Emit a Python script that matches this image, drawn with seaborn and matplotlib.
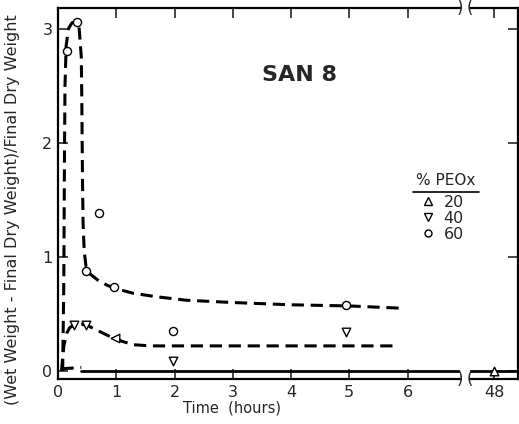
import matplotlib
matplotlib.use("Agg")
import matplotlib.pyplot as plt
import seaborn as sns
import pandas as pd
from matplotlib.lines import Line2D

sns.set_style("ticks")
plt.rcParams['font.family'] = ['DejaVu Sans']

# measured points
pts60_t = [0.15, 0.33, 0.48, 0.70, 0.96, 1.97, 4.95]
pts60_y = [2.80, 3.06, 0.88, 1.38, 0.74, 0.35, 0.58]
pts40_t = [0.27, 0.48, 1.97, 4.95]
pts40_y = [0.40, 0.40, 0.09, 0.34]
pts40b_t = [0.98]
pts40b_y = [0.29]
pts20_t = [48.0]
pts20_y = [0.0]

# drawn fitted curves
c60_t = [0.08, 0.10, 0.11, 0.12, 0.14, 0.18, 0.24, 0.30, 0.36, 0.40, 0.41, 0.42, 0.43, 0.45, 0.48, 0.55, 0.70, 0.85, 1.0, 1.3, 1.7, 2.2, 3.0, 4.0, 5.0, 5.9]
c60_y = [0.00, 0.80, 1.80, 2.50, 2.85, 3.00, 3.05, 3.06, 3.02, 2.75, 2.30, 1.70, 1.30, 1.05, 0.92, 0.85, 0.79, 0.75, 0.72, 0.68, 0.65, 0.62, 0.60, 0.58, 0.57, 0.55]
c40_t = [0.06, 0.10, 0.15, 0.20, 0.27, 0.40, 0.50, 0.70, 0.90, 1.10, 1.30, 1.60, 2.0, 3.0, 4.0, 5.0, 5.8]
c40_y = [0.00, 0.22, 0.33, 0.38, 0.40, 0.41, 0.40, 0.35, 0.30, 0.26, 0.23, 0.22, 0.22, 0.22, 0.22, 0.22, 0.22]
c20d_t = [0.06, 0.40]
c20d_y = [0.02, 0.03]
c20s_t = [0.40, 6.9]
c20s_y = [0.00, 0.00]
c20r_t = [47.5, 48.5]
c20r_y = [0.0, 0.0]

xticks_main = [0, 1, 2, 3, 4, 5, 6]
xticks_right = [48]
yticks = [0, 1, 2, 3]
legend_labels = ["20", "40", "60"]

W, H = 519, 424
fig = plt.figure(figsize=(W / 100, H / 100), dpi=100)
L, B, T = 58 / W, 1 - 379 / H, 1 - 8 / H
ax1 = fig.add_axes([L, B, 460 / W - L, T - B])
ax2 = fig.add_axes([470 / W, B, 48 / W, T - B])

dash = dict(color="black", lw=2.2, dashes=(4, 2.2), sort=False, legend=False)
sns.lineplot(x=c60_t, y=c60_y, ax=ax1, **dash)
sns.lineplot(x=c40_t, y=c40_y, ax=ax1, **dash)
sns.lineplot(x=c20d_t, y=c20d_y, ax=ax1, **dash)
sns.lineplot(x=c20s_t, y=c20s_y, ax=ax1, color="black", lw=2.0, sort=False, legend=False)
sns.lineplot(x=c20r_t, y=c20r_y, ax=ax2, color="black", lw=2.0, sort=False, legend=False)

mk = dict(facecolor="white", edgecolor="black", linewidth=1.0, zorder=5, legend=False)
sns.scatterplot(x=pts60_t, y=pts60_y, ax=ax1, marker="o", s=34, **mk)
sns.scatterplot(x=pts40_t, y=pts40_y, ax=ax1, marker="v", s=38, **mk)
sns.scatterplot(x=pts40b_t, y=pts40b_y, ax=ax1, marker="<", s=38, **mk)
sns.scatterplot(x=pts20_t, y=pts20_y, ax=ax2, marker="^", s=38, **mk)

ylo, yhi = -0.07, 3.18
ax1.set_xlim(0, 6.9)
ax1.set_ylim(ylo, yhi)
ax2.set_xlim(47.59, 48.41)
ax2.set_ylim(ylo, yhi)

for ax in (ax1, ax2):
    for sp in ax.spines.values():
        sp.set_linewidth(1.6)
        sp.set_color("black")
ax1.spines["right"].set_visible(False)
ax2.spines["left"].set_visible(False)

ax1.set_xticks(xticks_main)
ax1.set_xticklabels([str(v) for v in xticks_main])
ax1.set_yticks(yticks)
ax1.set_yticklabels([str(v) for v in yticks])
ax1.tick_params(axis="both", direction="in", length=7, width=1.2, labelsize=11.5,
                top=True, right=False, pad=4)
ax2.set_xticks(xticks_right)
ax2.set_xticklabels([str(v) for v in xticks_right])
ax2.set_yticks(yticks)
ax2.tick_params(axis="both", direction="in", length=7, width=1.2, labelsize=11.5,
                top=True, left=False, labelleft=False, right=True, labelright=False, pad=4)

for ax in (ax1, ax2):
    ax.set_xlabel("")
    ax.set_ylabel("")

# break marks
for yy in (B, T):
    fig.text(460 / W, yy, ")", ha="center", va="center", fontsize=12)
    fig.text(470 / W, yy, "(", ha="center", va="center", fontsize=12)

fig.text(232 / W, 1 - 408 / H, "Time  (hours)", ha="center", va="center", fontsize=10.5)
fig.text(13 / W, 1 - 210 / H, "(Wet Weight - Final Dry Weight)/Final Dry Weight",
         ha="center", va="center", rotation=90, fontsize=11.5)
fig.text(300 / W, 1 - 75 / H, "SAN 8", ha="center", va="center",
         fontsize=16, fontweight="bold")

# legend block
fig.text(446 / W, 1 - 181 / H, "% PEOx", ha="center", va="center", fontsize=11)
fig.add_artist(Line2D([413 / W, 479 / W], [1 - 192 / H, 1 - 192 / H], color="black", lw=1.2))
handles = [
    Line2D([], [], ls="none", marker="^", mfc="white", mec="black", ms=5.5, mew=1.0),
    Line2D([], [], ls="none", marker="v", mfc="white", mec="black", ms=5.5, mew=1.0),
    Line2D([], [], ls="none", marker="o", mfc="white", mec="black", ms=5, mew=1.0),
]
fig.legend(handles, legend_labels, frameon=False, loc="upper left",
           bbox_to_anchor=(418 / W, 1 - 195 / H), fontsize=11.5,
           handletextpad=0.3, labelspacing=0.05, borderpad=0.0, borderaxespad=0.0,
           handlelength=1.3)

fig.savefig("out.png", dpi=100)
